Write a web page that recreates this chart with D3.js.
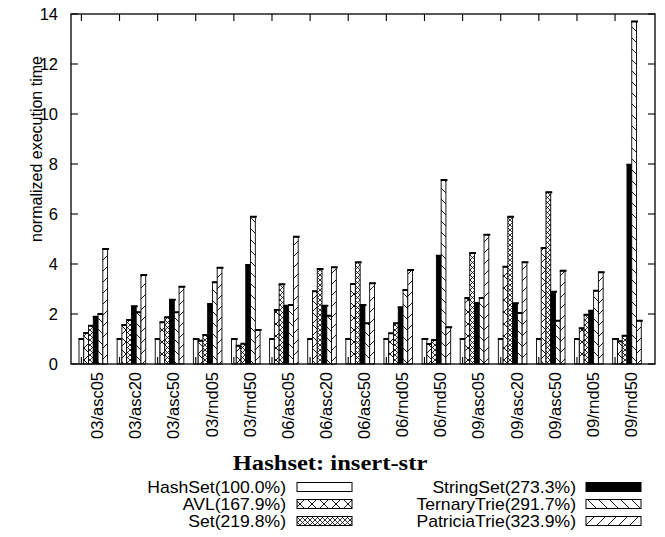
<!DOCTYPE html>
<html>
<head>
<meta charset="utf-8">
<script src="https://cdn.jsdelivr.net/npm/d3@7"></script>
<style>
  html, body { margin: 0; padding: 0; background: #fff; }
  svg { display: block; }
  text { fill: #000; }
  .sans { font-family: "Liberation Sans", Arial, Helvetica, sans-serif; }
  .serif { font-family: "Liberation Serif", "Times New Roman", Times, serif; font-weight: bold; }
</style>
</head>
<body>
<svg id="chart" width="665" height="537"></svg>
<script>
// Benchmark cases (x axis)
const categories = ["03/asc05", "03/asc20", "03/asc50", "03/rnd05", "03/rnd50",
                    "06/asc05", "06/asc20", "06/asc50", "06/rnd05", "06/rnd50",
                    "09/asc05", "09/asc20", "09/asc50", "09/rnd05", "09/rnd50"];

// Series names and their legend summaries
const seriesNames = ["HashSet", "AVL", "Set", "StringSet", "TernaryTrie", "PatriciaTrie"];
const seriesSummary = ["100.0%", "167.9%", "219.8%", "273.3%", "291.7%", "323.9%"];

// Normalized execution time per case
const hashSetValues     = [1, 1, 1, 1, 1, 1, 1, 1, 1, 1, 1, 1, 1, 1, 1];
const avlValues         = [1.24, 1.56, 1.67, 0.93, 0.73, 2.16, 2.91, 3.2, 1.23, 0.8, 2.64, 3.89, 4.64, 1.43, 0.91];
const setValues         = [1.53, 1.76, 1.87, 1.16, 0.81, 3.19, 3.8, 4.07, 1.63, 0.96, 4.44, 5.89, 6.87, 1.97, 1.13];
const stringSetValues   = [1.89, 2.31, 2.57, 2.4, 3.96, 2.33, 2.33, 2.36, 2.27, 4.33, 2.44, 2.43, 2.89, 2.13, 7.97];
const ternaryTrieValues = [2.0, 2.07, 2.07, 3.27, 5.89, 2.36, 1.93, 1.63, 2.96, 7.36, 2.64, 2.04, 1.73, 2.93, 13.7];
const patriciaValues    = [4.6, 3.56, 3.09, 3.85, 1.36, 5.09, 3.87, 3.23, 3.76, 1.47, 5.17, 4.07, 3.73, 3.67, 1.73];

const yTicks = [0, 2, 4, 6, 8, 10, 12, 14];

const seriesValues = [hashSetValues, avlValues, setValues, stringSetValues, ternaryTrieValues, patriciaValues];
const fills = ["#fff", "url(#patAvl)", "url(#patSet)", "#000", "url(#patTernary)", "url(#patPatricia)"];

const svg = d3.select("#chart");
const plot = { left: 71, right: 655, top: 14, bottom: 364 };

// ---- fill patterns ----
const defs = svg.append("defs");
function linePattern(id, size, paths, width) {
  const p = defs.append("pattern")
    .attr("id", id)
    .attr("patternUnits", "userSpaceOnUse")
    .attr("width", size).attr("height", size);
  p.append("rect").attr("width", size).attr("height", size).attr("fill", "#fff");
  paths.forEach(d => p.append("path").attr("d", d)
    .attr("stroke", "#000").attr("stroke-width", width).attr("fill", "none"));
}
function back(s) { return `M0,0 L${s},${s} M${-1},${s - 1} L1,${s + 1} M${s - 1},-1 L${s + 1},1`; }
function fwd(s) { return `M0,${s} L${s},0 M-1,1 L1,-1 M${s - 1},${s + 1} L${s + 1},${s - 1}`; }
linePattern("patAvl", 12, [back(12), fwd(12)], 0.9);
linePattern("patSet", 5, [back(5), fwd(5)], 0.8);
linePattern("patTernary", 11, [back(11)], 0.9);
linePattern("patPatricia", 11, [fwd(11)], 0.9);

// ---- scales ----
const x = d3.scaleLinear().domain([-0.585, 14.735]).range([plot.left, plot.right]);
const y = d3.scaleLinear().domain([0, 14]).range([plot.bottom, plot.top]);
const nSeries = seriesNames.length;
const barW = 1 / (nSeries + 2);

// ---- bars ----
const bars = svg.append("g");
seriesValues.forEach((vals, j) => {
  const g = bars.append("g");
  vals.forEach((v, i) => {
    const x0 = x(i + (j - nSeries / 2) * barW);
    const x1 = x(i + (j - nSeries / 2 + 1) * barW);
    g.append("rect")
      .attr("x", x0).attr("y", y(v))
      .attr("width", x1 - x0).attr("height", y(0) - y(v))
      .attr("fill", fills[j])
      .attr("stroke", "#000").attr("stroke-width", 0.9);
    // cap on top of the bar
    g.append("line")
      .attr("x1", x0 - 0.5).attr("x2", x1 + 1.5)
      .attr("y1", y(v)).attr("y2", y(v))
      .attr("stroke", "#000").attr("stroke-width", 2);
  });
});

// ---- frame and ticks ----
const frame = svg.append("g").attr("stroke", "#000").attr("fill", "none");
frame.append("rect")
  .attr("x", plot.left).attr("y", plot.top)
  .attr("width", plot.right - plot.left).attr("height", plot.bottom - plot.top)
  .attr("stroke-width", 1.3);

const tickLen = 7;
yTicks.forEach(t => {
  frame.append("line").attr("x1", plot.left).attr("x2", plot.left + tickLen)
    .attr("y1", y(t)).attr("y2", y(t)).attr("stroke-width", 1.1);
  frame.append("line").attr("x1", plot.right).attr("x2", plot.right - tickLen)
    .attr("y1", y(t)).attr("y2", y(t)).attr("stroke-width", 1.1);
});
categories.forEach((c, i) => {
  const tx = x(i - (nSeries - 1) / 2 * barW);
  frame.append("line").attr("x1", tx).attr("x2", tx)
    .attr("y1", plot.top).attr("y2", plot.top + tickLen).attr("stroke-width", 1.1);
  frame.append("line").attr("x1", tx).attr("x2", tx)
    .attr("y1", plot.bottom).attr("y2", plot.bottom - tickLen).attr("stroke-width", 1.1);
});

// ---- tick labels ----
svg.append("g").selectAll("text").data(yTicks).join("text")
  .attr("class", "sans")
  .attr("x", 58).attr("y", d => y(d))
  .attr("dy", "0.36em")
  .attr("text-anchor", "end")
  .attr("font-size", 16.5)
  .text(d => d);

svg.append("g").selectAll("text").data(categories).join("text")
  .attr("class", "sans")
  .attr("transform", (d, i) => `translate(${x(i) + 4},372) rotate(-90)`)
  .attr("text-anchor", "end")
  .attr("dy", "0.36em")
  .attr("font-size", 16.5)
  .text(d => d);

// ---- axis title ----
svg.append("text")
  .attr("class", "sans")
  .attr("transform", "translate(42,149) rotate(-90)")
  .attr("text-anchor", "middle")
  .attr("font-size", 16)
  .text("normalized execution time");

// ---- legend ----
svg.append("text")
  .attr("class", "serif")
  .attr("transform", "translate(330,470) scale(1.2,1)")
  .attr("text-anchor", "middle")
  .attr("font-size", 20.5)
  .text("Hashset: insert-str");

const legend = svg.append("g");
const colText = [286, 576], colBox = [297, 586], boxW = 55, rowY = [487, 504, 521];
seriesNames.forEach((name, k) => {
  const col = Math.floor(k / 3), row = k % 3;
  legend.append("text")
    .attr("class", "sans")
    .attr("transform", `translate(${colText[col]},${rowY[row]}) scale(1.1,1)`)
    .attr("dy", "0.36em")
    .attr("text-anchor", "end")
    .attr("font-size", 16)
    .text(`${name}(${seriesSummary[k]})`);
  legend.append("rect")
    .attr("x", colBox[col]).attr("y", rowY[row] - 4.5)
    .attr("width", boxW).attr("height", 9)
    .attr("fill", fills[k])
    .attr("stroke", "#000").attr("stroke-width", 1);
});
</script>
</body>
</html>
